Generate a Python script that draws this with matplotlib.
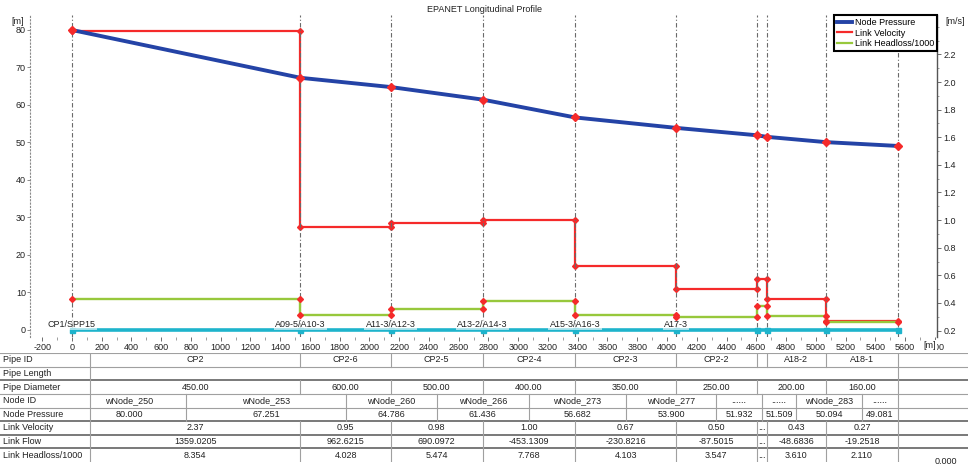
import matplotlib
matplotlib.use("Agg")
import matplotlib.pyplot as plt
from matplotlib.lines import Line2D
from matplotlib.ticker import MultipleLocator, FixedLocator, FormatStrFormatter
import numpy as np

plt.rcParams['font.family'] = ['Liberation Sans', 'DejaVu Sans']
plt.rcParams['font.size'] = 6.5
plt.rcParams['axes.unicode_minus'] = False

# ---- profile data -------------------------------------------------------
node_ids = ["wNode_250", "wNode_253", "wNode_260", "wNode_266", "wNode_273",
            "wNode_277", "......", "......", "wNode_283", "......"]
node_tags = ["CP1/SPP15", "A09-5/A10-3", "A11-3/A12-3", "A13-2/A14-3",
             "A15-3/A16-3", "A17-3", "", "", "", ""]
node_dist = [0, 1536, 2143, 2761, 3382, 4061, 4603, 4670, 5069, 5551]
node_pressure = [80.000, 67.251, 64.786, 61.436, 56.682, 53.900,
                 51.932, 51.509, 50.094, 49.081]
node_elevation = [0, 0, 0, 0, 0, 0, 0, 0, 0, 0]

pipe_ids = ["CP2", "CP2-6", "CP2-5", "CP2-4", "CP2-3", "CP2-2", "", "A18-2", "A18-1"]
pipe_diameter = [450.00, 600.00, 500.00, 400.00, 350.00, 250.00, 200.00, 200.00, 160.00]
link_velocity = [2.37, 0.95, 0.98, 1.00, 0.67, 0.50, 0.57, 0.43, 0.27]
link_flow = [1359.0205, 962.6215, 690.0972, -453.1309, -230.8216, -87.5015,
             None, -48.6836, -19.2518]
link_headloss = [8.354, 4.028, 5.474, 7.768, 4.103, 3.547, 6.5, 3.610, 2.110]

row_names = ["Pipe ID", "Pipe Length", "Pipe Diameter", "Node ID", "Node Pressure",
             "Link Velocity", "Link Flow", "Link Headloss/1000"]

BLUE = "#2443a6"
RED = "#f52a2a"
GREEN = "#97c83c"
CYAN = "#1eb4cc"
GRID = "#6a6a6a"
TXT = "#222222"

# ---- layout -------------------------------------------------------------
W, H = 968, 469
fig = plt.figure(figsize=(W / 100, H / 100), dpi=100)
fig.patch.set_facecolor("white")


def fig_rect(x0, y0, x1, y1):
    return [x0 / W, 1 - y1 / H, (x1 - x0) / W, (y1 - y0) / H]


PL, PR, PT, PB = 30, 937, 15, 337
XMIN, XMAX = -282, 5815

ax = fig.add_axes(fig_rect(PL, PT, PR, PB))
ax.set_xlim(XMIN, XMAX)
ax.set_ylim(-1.87, 84.0)
ax2 = ax.twinx()
ax2.set_ylim(0.153, 2.486)
ax.set_zorder(ax2.get_zorder() + 1)
ax.patch.set_visible(False)

# node verticals
for x in node_dist:
    ax.axvline(x, color=GRID, lw=0.8, dashes=(4, 2, 1, 2), zorder=1)

# elevation line along the bottom
ax.plot(node_dist, node_elevation, color=CYAN, lw=2.6, marker="s", ms=3.6,
        mfc=CYAN, mec=CYAN, zorder=2, solid_capstyle="butt")

for x, tag in zip(node_dist, node_tags):
    if tag:
        ax.text(x, 1.45, tag, ha="center", va="center", fontsize=6.5, color=TXT,
                zorder=2.5,
                bbox=dict(boxstyle="square,pad=0.15", fc="white", ec="none", alpha=0.6))

# step series: velocity (right axis) and headloss (left axis)
sx = np.repeat(node_dist, 2)[1:-1]
ax2.plot(sx, np.repeat(link_velocity, 2), color=RED, lw=1.6, marker="D", ms=3,
         mfc=RED, mec=RED, zorder=3)
hy = np.repeat(link_headloss, 2)
ax.plot(sx, hy, color=GREEN, lw=1.7, zorder=3)
ax.plot(sx, hy, ls="none", marker="D", ms=3, color=RED, zorder=4)

# node pressure
ax.plot(node_dist, node_pressure, color=BLUE, lw=2.8, zorder=5)
ax.plot(node_dist, node_pressure, ls="none", marker="D", ms=4, color=RED, zorder=6)

# axes styling
for s in ("top", "bottom", "right"):
    ax.spines[s].set_visible(False)
for s in ("top", "bottom", "left"):
    ax2.spines[s].set_visible(False)
ax.spines["left"].set_linestyle((0, (1, 2)))
ax.spines["left"].set_color("#8a8a8a")
ax.spines["left"].set_linewidth(0.8)
ax2.spines["right"].set_color("#555555")
ax2.spines["right"].set_linewidth(1.0)

ax.xaxis.set_major_locator(MultipleLocator(200))
ax.xaxis.set_minor_locator(MultipleLocator(100))
ax.yaxis.set_major_locator(MultipleLocator(10))
ax.tick_params(axis="x", which="major", length=3, width=0.6, color="#555555",
               pad=1.5, labelsize=6.5, labelcolor=TXT)
ax.tick_params(axis="x", which="minor", length=2, width=0.5, color="#777777")
ax.tick_params(axis="y", which="major", length=2, width=0.6, color="#777777",
               pad=1, labelsize=6.5, labelcolor=TXT)

ax2.yaxis.set_major_locator(FixedLocator(np.round(np.arange(0.2, 2.21, 0.2), 1)))
ax2.yaxis.set_minor_locator(MultipleLocator(0.1))
ax2.yaxis.set_major_formatter(FormatStrFormatter("%.1f"))
ax2.tick_params(axis="y", which="major", length=3, width=0.6, color="#555555",
                pad=1.5, labelsize=6.5, labelcolor=TXT)
ax2.tick_params(axis="y", which="minor", length=1.5, width=0.5, color="#777777")

handles = [Line2D([], [], color=BLUE, lw=2.8),
           Line2D([], [], color=RED, lw=1.6),
           Line2D([], [], color=GREEN, lw=1.6)]
leg = ax.legend(handles, ["Node Pressure", "Link Velocity", "Link Headloss/1000"],
                loc="upper right", bbox_to_anchor=(1, 1), borderaxespad=0,
                fancybox=False, edgecolor="black", framealpha=1, fontsize=6.5,
                handlelength=1.7, handletextpad=0.3, labelspacing=0.2, borderpad=0.3)
leg.get_frame().set_linewidth(1.5)
leg.set_zorder(10)

fig.text(485 / W, 1 - 10 / H, "EPANET Longitudinal Profile", ha="center", va="center",
         fontsize=6.5, color=TXT)
fig.text(18 / W, 1 - 21 / H, "[m]", ha="center", va="center", fontsize=6.5, color=TXT)
fig.text(955 / W, 1 - 22 / H, "[m/s]", ha="center", va="center", fontsize=6.5, color=TXT)
fig.text(930 / W, 1 - 345 / H, "[m]", ha="center", va="center", fontsize=6.5, color=TXT,
         bbox=dict(boxstyle="square,pad=0.1", fc="white", ec="none"), zorder=20)
fig.text(946 / W, 1 - 461 / H, "0.000", ha="center", va="center", fontsize=6.5, color=TXT)

# ---- data table ---------------------------------------------------------
tab = fig.add_axes(fig_rect(0, 353, W, 462))
mpp = (XMAX - XMIN) / (PR - PL)
tab.set_xlim(XMIN - PL * mpp, XMAX + (W - PR) * mpp)
tab.set_ylim(len(row_names), 0)
tab.axis("off")
col_edge = XMIN + (90 - PL) * mpp
narrow = 12 * mpp
LINE = "#a0a0a0"
DARK = "#6e6e6e"

for r, name in enumerate(row_names):
    tab.text(XMIN - (PL - 3) * mpp, r + 0.5, name, ha="left", va="center",
             fontsize=6.5, color=TXT)
heavy_rules = {2, 5, 6, 7}
for r in range(len(row_names)):
    if r in heavy_rules:
        tab.axhline(r, color=DARK, lw=1.3)
    else:
        tab.axhline(r, color=LINE, lw=0.8)
tab.axvline(col_edge, color=LINE, lw=0.8)
tab.axvline(node_dist[-1], color=LINE, lw=0.8)

link_l = [col_edge] + node_dist[1:-1]
link_r = node_dist[1:]


def link_row(r, labels, merge=False):
    i = 0
    n = len(labels)
    while i < n:
        j = i
        if merge:
            while j + 1 < n and labels[j + 1] == labels[i]:
                j += 1
        x0, x1 = link_l[i], link_r[j]
        txt = labels[i]
        if txt and x1 - x0 < narrow:
            txt = "..."
        tab.text((x0 + x1) / 2, r + 0.5, txt, ha="center", va="center",
                 fontsize=6.5, color=TXT)
        if j < n - 1:
            tab.plot([x1, x1], [r, r + 1], color=LINE, lw=0.8)
        i = j + 1


def node_row(r, labels):
    mids = [(a + b) / 2 for a, b in zip(node_dist[:-1], node_dist[1:])]
    lefts = [node_dist[0]] + mids
    rights = mids + [node_dist[-1]]
    for k, txt in enumerate(labels):
        tab.text((lefts[k] + rights[k]) / 2, r + 0.5, txt, ha="center", va="center",
                 fontsize=6.5, color=TXT)
    for m in mids:
        tab.plot([m, m], [r, r + 1], color=LINE, lw=0.8)


link_row(0, pipe_ids)
link_row(2, ["%.2f" % d for d in pipe_diameter], merge=True)
node_row(3, node_ids)
node_row(4, ["%.3f" % p for p in node_pressure])
link_row(5, ["%.2f" % v for v in link_velocity])
link_row(6, ["..." if q is None else "%.4f" % q for q in link_flow])
link_row(7, ["%.3f" % h for h in link_headloss])

fig.savefig("out.png", dpi=100, facecolor="white")
